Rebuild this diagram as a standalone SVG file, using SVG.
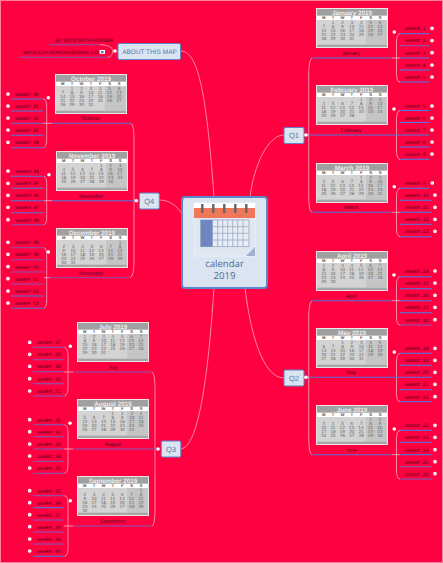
<svg xmlns="http://www.w3.org/2000/svg" width="443" height="563" viewBox="0 0 443 563">
<style>
text{font-family:"Liberation Sans",Arial,sans-serif;text-rendering:geometricPrecision}
.c{fill:none;stroke:#ffa8bf;stroke-width:.8}
.u{fill:none;stroke:#4f78dc;stroke-width:1.100}
.p{fill:none;stroke:#8258b4;stroke-width:1.100}
.t{font-size:5.200px;fill:#4a0420}
.l{font-size:5.200px;fill:#4a0420;text-anchor:middle}
.h{font-size:6.300px;font-weight:bold;fill:#ececec;text-anchor:middle}
.wd{font-size:4.200px;font-weight:bold;fill:#555;text-anchor:middle}
.d1{font-size:4.600px;fill:#6a6a6a;word-spacing:5.560px}
.d2{font-size:4.600px;fill:#6a6a6a;word-spacing:3px}
.n{fill:#dbe5f1;stroke:#5b86c9;stroke-width:1}
.q{font-size:7.500px;fill:#5577a8;text-anchor:middle}
.k{font-size:9.600px;font-family:"Open Sans",sans-serif;fill:#4a6c9c;text-anchor:middle}
.s{fill:#fff}
.w{fill:#c8c8da;stroke:#fff;stroke-width:1.100}
.ring{stroke:#666;stroke-width:2.400}
.gl{stroke:#9aa8c0;stroke-width:.8;fill:none}
</style>
<defs>
<g id="cal">
<rect x="0" y="0" width="72" height="40" fill="#f0e4e6"/>
<rect x="1" y="1" width="70" height="6.800" fill="#a0a0a0"/>
<rect x="1" y="7.800" width="70" height="4.200" fill="#fff"/>
<rect x="1" y="12" width="49" height="24.600" fill="#d3d3d3"/>
<rect x="50" y="12" width="21" height="24.600" fill="#c5c5c5"/>
<rect x="1" y="36.600" width="70" height="2.400" fill="#a6a6a6"/>
<text class="wd" y="11"><tspan x="7.700">M</tspan><tspan x="17.100">T</tspan><tspan x="26.500">W</tspan><tspan x="35.900">T</tspan><tspan x="45.300">F</tspan><tspan x="54.700">S</tspan><tspan x="64.100">S</tspan></text>
</g>
<g id="tue31"><text class="d1" x="15.800" y="16">1 2 3 4 5 6</text><text class="d1" x="6.400" y="20">7 8 9</text><text class="d2" x="33.350" y="20">10 11 12 13</text><text class="d2" x="5.150" y="24">14 15 16 17 18 19 20</text><text class="d2" x="5.150" y="28">21 22 23 24 25 26 27</text><text class="d2" x="5.150" y="32">28 29 30 31</text></g>
<g id="fri"><text class="d1" x="44" y="16">1 2 3</text><text class="d1" x="6.400" y="20">4 5 6 7 8 9</text><text class="d2" x="61.550" y="20">10</text><text class="d2" x="5.150" y="24">11 12 13 14 15 16 17</text><text class="d2" x="5.150" y="28">18 19 20 21 22 23 24</text></g>
<g id="mon"><text class="d1" x="6.400" y="16">1 2 3 4 5 6 7</text><text class="d1" x="6.400" y="20">8 9</text><text class="d2" x="23.950" y="20">10 11 12 13 14</text><text class="d2" x="5.150" y="24">15 16 17 18 19 20 21</text><text class="d2" x="5.150" y="28">22 23 24 25 26 27 28</text></g>
<g id="sun"><text class="d1" x="62.800" y="16">1</text><text class="d1" x="6.400" y="20">2 3 4 5 6 7 8</text><text class="d1" x="6.400" y="24">9</text><text class="d2" x="14.550" y="24">10 11 12 13 14 15</text><text class="d2" x="5.150" y="28">16 17 18 19 20 21 22</text><text class="d2" x="5.150" y="32">23 24 25 26 27 28 29</text></g>
<circle id="wk" r="1.300" class="w"/>
</defs>
<rect x=".5" y=".5" width="442" height="562" fill="#ff0040" stroke="#ff7f9f"/>

<g id="connectors">
<path class="c" d="M181 51C197 52 206 85 214 197"/>
<path class="c" d="M284 135C268 135 254 165 250 197"/>
<path class="c" d="M245 288C250 330 262 378 284 378"/>
<path class="c" d="M181 449C198 447 208 380 214 288"/>
<path class="c" d="M159 200C170 200 177 206 182 214"/>
<path class="c" d="M312 58Q308.700 60 308.700 75V195Q308.700 212 312 212.300"/>
<path class="c" d="M304 135H309"/>
<path class="c" d="M312 300.700Q308.700 303 308.700 318V437Q308.700 454 312 454.700"/>
<path class="c" d="M304 377.300H309"/>
<path class="c" d="M131 123.300Q134 125 134 140V260Q134 277 130 277.700"/>
<path class="c" d="M152 372Q155 374 155 389V509Q155 525 152 526"/>
<path class="c" d="M100 44.700Q112 45 113 51Q112 57 108 57.300"/>
<path class="c" d="M400 33.700Q396.500 34 396.500 42V74Q396.500 82 400 82M392 58H400"/>
<path class="c" d="M400 110.500Q396.500 111 396.500 119V151Q396.500 159 400 159.300"/>
<path class="c" d="M400 188.300Q396.500 189 396.500 197V229Q396.500 236 400 236.700M392 212.300H400"/>
<path class="c" d="M400 276.700Q396.500 277 396.500 285V317Q396.500 325 400 325M392 300.700H400"/>
<path class="c" d="M400 353.300Q396.500 354 396.500 362V394Q396.500 401 400 401.700"/>
<path class="c" d="M400 430.300Q396.500 431 396.500 439V471Q396.500 479 400 479M392 454.700H400"/>
<path class="c" d="M43.300 99Q46.700 99 46.700 107V140Q46.700 147 43.300 147.700M43 123.300H52"/>
<path class="c" d="M44 176.300Q46.700 177 46.700 184V217Q46.700 224 44 224.700M44 200.700H52"/>
<path class="c" d="M44 247.700Q46.700 248 46.700 256V300Q46.700 308 44 308.300M44 277.700H50"/>
<path class="c" d="M64.300 347.300Q68 348 68 356V388Q68 395 64.300 396M64 372H73"/>
<path class="c" d="M64.300 424.700Q68 425 68 433V465Q68 473 64.300 473.300M64 449H73"/>
<path class="c" d="M64.300 495.700Q68 496 68 504V548Q68 556 64.300 556.300M64 526H73"/>
<path class="u" d="M312 58H392M309 135H429"/>
<path class="u" d="M312 212.300H392M312 300.700H392M309 377.300H392"/>
<path class="u" d="M312 454.700H392"/>
<path class="u" d="M52 123.300H131M52 200.700H136"/>
<path class="p" d="M50 277.700H130M73 372H152M73 449H158M73 526H152"/>
<path class="p" d="M50 44.700H100M19 57.300H108"/>
</g>

<g id="central">
<rect x="182" y="197" width="85" height="91" rx="3" fill="#dbe5f1" stroke="#5b86c9" stroke-width="2"/>
<rect x="194" y="203" width="61" height="53" fill="#dfe8f2" stroke="#eef3f9" stroke-width=".8"/>
<rect x="194" y="203" width="61" height="5" fill="#fff"/>
<rect x="194" y="208" width="61" height="10" fill="#f0775a"/>
<path class="ring" d="M202.300 204V213M213.300 204V213M224.300 204V213M235.300 204V213M246.300 204V213"/>
<rect x="200.700" y="220" width="48.300" height="26.700" fill="#e6edf5" stroke="#9aa8c0" stroke-width=".8"/>
<rect x="200.700" y="220" width="12" height="26.700" fill="#6f87bf"/>
<path class="gl" d="M217.700 220V246.700M222.700 220V246.700M227.700 220V246.700M232.700 220V246.700M237.700 220V246.700M243 220V246.700M212.700 226.700H249M212.700 233.300H249M212.700 240H249"/>
<path d="M246 256H255V247Z" fill="#9fb2cf"/>
<text class="k" x="224.500" y="266.500">calendar</text>
<text class="k" x="224.500" y="279">2019</text>
</g>

<g id="about"><rect class="n" x="118" y="43.500" width="62.500" height="16" rx="1.500"/><text class="q" style="font-size:6.500px" x="149.500" y="53.800">ABOUT THIS MAP</text><circle class="s" cx="115" cy="51" r="1.800"/></g>
<g id="by"><text class="t" x="55" y="41.500">BY WOJCIECH KORSAK</text></g>
<g id="mail"><text class="t" x="23" y="53.500" style="font-size:4.800px">WOJCIECH.KORSAK@GMAIL.COM</text><rect x="99.500" y="50" width="5.500" height="3.800" fill="#fff"/><rect x="101" y="51" width="2.500" height="2" fill="#4f74cc"/></g>
<g id="q1"><rect class="n" x="284" y="127.500" width="20" height="16" rx="1.500"/><text class="q" x="294" y="138">Q1</text><circle class="s" cx="306" cy="135" r="1.800"/></g>
<g id="q2"><rect class="n" x="284" y="370" width="20" height="16" rx="1.500"/><text class="q" x="294" y="380.500">Q2</text><circle class="s" cx="306" cy="377.300" r="1.800"/></g>
<g id="q3"><rect class="n" x="161.300" y="441" width="19.500" height="16" rx="1.500"/><text class="q" x="171" y="451.500">Q3</text><circle class="s" cx="158" cy="449" r="1.800"/></g>
<g id="q4"><rect class="n" x="139.300" y="193" width="20" height="16" rx="1.500"/><text class="q" x="149.300" y="203.500">Q4</text><circle class="s" cx="136.300" cy="200.700" r="1.800"/></g>

<g id="jan" transform="translate(316,8)"><use href="#cal"/><text class="h" x="36" y="7">January 2019</text><use href="#tue31"/><text class="l" x="35" y="46.500">January</text></g>
<g id="feb" transform="translate(316,85)"><use href="#cal"/><text class="h" x="36" y="7">February 2019</text><use href="#fri"/><text class="d2" x="5.150" y="32">25 26 27 28</text><text class="l" x="35" y="46.800">February</text></g>
<g id="mar" transform="translate(316,163)"><use href="#cal"/><text class="h" x="36" y="7">March 2019</text><use href="#fri"/><text class="d2" x="5.150" y="32">25 26 27 28 29 30 31</text><text class="l" x="35" y="46.100">March</text></g>
<g id="apr" transform="translate(316,251)"><use href="#cal"/><text class="h" x="36" y="7">April 2019</text><use href="#mon"/><text class="d2" x="5.150" y="32">29 30</text><text class="l" x="35" y="46.500">April</text></g>
<g id="may" transform="translate(316,328)"><use href="#cal"/><text class="h" x="36" y="7">May 2019</text><text class="d1" x="25.200" y="16">1 2 3 4 5</text><text class="d1" x="6.400" y="20">6 7 8 9</text><text class="d2" x="42.750" y="20">10 11 12</text><text class="d2" x="5.150" y="24">13 14 15 16 17 18 19</text><text class="d2" x="5.150" y="28">20 21 22 23 24 25 26</text><text class="d2" x="5.150" y="32">27 28 29 30 31</text><text class="l" x="35" y="46.100">May</text></g>
<g id="jun" transform="translate(316,405)"><use href="#cal"/><text class="h" x="36" y="7">June 2019</text><text class="d1" x="53.400" y="16">1 2</text><text class="d1" x="6.400" y="20">3 4 5 6 7 8 9</text><text class="d2" x="5.150" y="24">10 11 12 13 14 15 16</text><text class="d2" x="5.150" y="28">17 18 19 20 21 22 23</text><text class="d2" x="5.150" y="32">24 25 26 27 28 29 30</text><text class="l" x="35" y="46.800">June</text></g>
<g id="jul" transform="translate(77,322)"><use href="#cal"/><text class="h" x="36" y="7">July 2019</text><use href="#mon"/><text class="d2" x="5.150" y="32">29 30 31</text><text class="l" x="35.700" y="46.500">July</text></g>
<g id="aug" transform="translate(77,399)"><use href="#cal"/><text class="h" x="36" y="7">August 2019</text><text class="d1" x="34.600" y="16">1 2 3 4</text><text class="d1" x="6.400" y="20">5 6 7 8 9</text><text class="d2" x="52.150" y="20">10 11</text><text class="d2" x="5.150" y="24">12 13 14 15 16 17 18</text><text class="d2" x="5.150" y="28">19 20 21 22 23 24 25</text><text class="d2" x="5.150" y="32">26 27 28 29 30 31</text><text class="l" x="35.700" y="46.800">August</text></g>
<g id="sep" transform="translate(77,476)"><use href="#cal"/><text class="h" x="36" y="7">September 2019</text><use href="#sun"/><text class="d2" x="5.150" y="36">30</text><text class="l" x="35.700" y="46.500">September</text></g>
<g id="oct" transform="translate(55,74)"><use href="#cal"/><text class="h" x="36" y="7">October 2019</text><use href="#tue31"/><text class="l" x="35.700" y="45.800">October</text></g>
<g id="nov" transform="translate(56,151)"><use href="#cal"/><text class="h" x="36" y="7">November 2019</text><use href="#fri"/><text class="d2" x="5.150" y="32">25 26 27 28 29 30</text><text class="l" x="35" y="46.800">November</text></g>
<g id="dec" transform="translate(56,228)"><use href="#cal"/><text class="h" x="36" y="7">December 2019</text><use href="#sun"/><text class="d2" x="5.150" y="36">30 31</text><text class="l" x="35" y="46.800">December</text></g>

<g id="dots-months" class="s"><circle cx="394.300" cy="32" r="1.800"/><circle cx="394" cy="109" r="1.800"/><circle cx="394.300" cy="186.700" r="1.800"/><circle cx="394" cy="275" r="1.800"/><circle cx="394.300" cy="352" r="1.800"/><circle cx="394.300" cy="429" r="1.800"/><circle cx="48.300" cy="97.700" r="1.800"/><circle cx="49" cy="174.700" r="1.800"/><circle cx="48.300" cy="252" r="1.800"/><circle cx="70.300" cy="346.300" r="1.800"/><circle cx="70" cy="423.300" r="1.800"/><circle cx="70.300" cy="500.700" r="1.800"/></g>

<g id="jan-w1"><path class="u" d="M400 33.700H429"/><text class="t" x="404.700" y="30.100">week#: 1</text><use href="#wk" x="432" y="28.300"/></g>
<g id="jan-w2"><path class="p" d="M400 45.700H429"/><text class="t" x="404.700" y="42.400">week#: 2</text><use href="#wk" x="432" y="40.600"/></g>
<g id="jan-w3"><path class="u" d="M400 58H429"/><text class="t" x="404.700" y="54.500">week#: 3</text><use href="#wk" x="432" y="52.700"/></g>
<g id="jan-w4"><path class="u" d="M400 70H429"/><text class="t" x="404.700" y="66.800">week#: 4</text><use href="#wk" x="432" y="65"/></g>
<g id="jan-w5"><path class="u" d="M400 82H429"/><text class="t" x="404.700" y="78.800">week#: 5</text><use href="#wk" x="432" y="77"/></g>
<g id="feb-w5"><path class="u" d="M400 110.500H429"/><text class="t" x="404.700" y="107.800">week#: 5</text><use href="#wk" x="432" y="106"/></g>
<g id="feb-w6"><path class="u" d="M400 122.500H429"/><text class="t" x="404.700" y="119.800">week#: 6</text><use href="#wk" x="432" y="118"/></g>
<g id="feb-w7"><text class="t" x="404.700" y="131.800">week#: 7</text><use href="#wk" x="432" y="130"/></g>
<g id="feb-w8"><path class="u" d="M400 147H429"/><text class="t" x="404.700" y="143.800">week#: 8</text><use href="#wk" x="432" y="142"/></g>
<g id="feb-w9"><path class="u" d="M400 159.300H429"/><text class="t" x="404.700" y="155.800">week#: 9</text><use href="#wk" x="432" y="154"/></g>
<g id="mar-w9"><path class="u" d="M400 188.300H429"/><text class="t" x="404.700" y="184.800">week#: 9</text><use href="#wk" x="432.300" y="183"/></g>
<g id="mar-w10"><path class="u" d="M400 200.300H432"/><text class="t" x="404.700" y="196.800">week#: 10</text><use href="#wk" x="435" y="195"/></g>
<g id="mar-w11"><path class="u" d="M400 212.300H432"/><text class="t" x="404.700" y="209.100">week#: 11</text><use href="#wk" x="435" y="207.300"/></g>
<g id="mar-w12"><path class="u" d="M400 224.300H432"/><text class="t" x="404.700" y="221.100">week#: 12</text><use href="#wk" x="435" y="219.300"/></g>
<g id="mar-w13"><path class="u" d="M400 236.700H432"/><text class="t" x="404.700" y="233.100">week#: 13</text><use href="#wk" x="435" y="231.300"/></g>
<g id="apr-w14"><path class="u" d="M400 276.700H432"/><text class="t" x="404.700" y="272.800">week#: 14</text><use href="#wk" x="435" y="271"/></g>
<g id="apr-w15"><path class="u" d="M400 288.700H432"/><text class="t" x="404.700" y="284.800">week#: 15</text><use href="#wk" x="435" y="283"/></g>
<g id="apr-w16"><path class="u" d="M400 300.700H432"/><text class="t" x="404.700" y="297.100">week#: 16</text><use href="#wk" x="435" y="295.300"/></g>
<g id="apr-w17"><path class="u" d="M400 312.700H432"/><text class="t" x="404.700" y="309.100">week#: 17</text><use href="#wk" x="435" y="307.300"/></g>
<g id="apr-w18"><path class="p" d="M400 325H432"/><text class="t" x="404.700" y="321.500">week#: 18</text><use href="#wk" x="435" y="319.700"/></g>
<g id="may-w18"><path class="u" d="M400 353.300H432"/><text class="t" x="404.700" y="350.100">week#: 18</text><use href="#wk" x="435" y="348.300"/></g>
<g id="may-w19"><path class="u" d="M400 365.300H432"/><text class="t" x="404.700" y="362.100">week#: 19</text><use href="#wk" x="435" y="360.300"/></g>
<g id="may-w20"><path class="u" d="M392 377.300H432"/><text class="t" x="404.700" y="374.100">week#: 20</text><use href="#wk" x="435" y="372.300"/></g>
<g id="may-w21"><path class="u" d="M400 389.700H432"/><text class="t" x="404.700" y="386.100">week#: 21</text><use href="#wk" x="435" y="384.300"/></g>
<g id="may-w22"><path class="u" d="M400 401.700H432"/><text class="t" x="404.700" y="398.500">week#: 22</text><use href="#wk" x="435" y="396.700"/></g>
<g id="jun-w22"><path class="u" d="M400 430.300H432"/><text class="t" x="404.700" y="427.100">week#: 22</text><use href="#wk" x="435" y="425.300"/></g>
<g id="jun-w23"><path class="u" d="M400 442.300H432"/><text class="t" x="404.700" y="439.100">week#: 23</text><use href="#wk" x="435" y="437.300"/></g>
<g id="jun-w24"><path class="u" d="M400 454.700H432"/><text class="t" x="404.700" y="451.500">week#: 24</text><use href="#wk" x="435" y="449.700"/></g>
<g id="jun-w25"><path class="p" d="M400 466.700H432"/><text class="t" x="404.700" y="463.500">week#: 25</text><use href="#wk" x="435" y="461.700"/></g>
<g id="jun-w26"><path class="p" d="M400 479H432"/><text class="t" x="404.700" y="475.500">week#: 26</text><use href="#wk" x="435" y="473.700"/></g>

<g id="oct-w40"><path class="u" d="M11 99H43.300"/><text class="t" x="15" y="95.800">week#: 40</text><use href="#wk" x="8" y="94"/></g>
<g id="oct-w41"><path class="u" d="M11 111H43.300"/><text class="t" x="15" y="107.800">week#: 41</text><use href="#wk" x="8" y="106"/></g>
<g id="oct-w42"><path class="u" d="M11 123.300H43.300"/><text class="t" x="15" y="119.800">week#: 42</text><use href="#wk" x="8" y="118"/></g>
<g id="oct-w43"><path class="u" d="M11 135.300H43.300"/><text class="t" x="15" y="131.800">week#: 43</text><use href="#wk" x="8" y="130"/></g>
<g id="oct-w44"><path class="u" d="M11 147.700H43.300"/><text class="t" x="15" y="144.100">week#: 44</text><use href="#wk" x="8" y="142.300"/></g>
<g id="nov-w44"><path class="u" d="M11 176.300H44"/><text class="t" x="15.300" y="172.800">week#: 44</text><use href="#wk" x="8" y="171"/></g>
<g id="nov-w45"><path class="u" d="M11 188.300H44"/><text class="t" x="15.300" y="185.100">week#: 45</text><use href="#wk" x="8" y="183.300"/></g>
<g id="nov-w46"><path class="u" d="M11 200.700H44"/><text class="t" x="15.300" y="197.100">week#: 46</text><use href="#wk" x="8" y="195.300"/></g>
<g id="nov-w47"><path class="u" d="M11 212.700H44"/><text class="t" x="15.300" y="209.100">week#: 47</text><use href="#wk" x="8" y="207.300"/></g>
<g id="nov-w48"><path class="p" d="M11 224.700H44"/><text class="t" x="15.300" y="221.500">week#: 48</text><use href="#wk" x="8" y="219.700"/></g>
<g id="dec-w48"><path class="p" d="M11 247.700H44"/><text class="t" x="15" y="244.100">week#: 48</text><use href="#wk" x="8" y="242.300"/></g>
<g id="dec-w49"><path class="p" d="M11 259.700H44"/><text class="t" x="15" y="256.100">week#: 49</text><use href="#wk" x="8" y="254.300"/></g>
<g id="dec-w50"><path class="p" d="M11 272H44"/><text class="t" x="15" y="268.500">week#: 50</text><use href="#wk" x="8" y="266.700"/></g>
<g id="dec-w51"><path class="p" d="M11 284H44"/><text class="t" x="15" y="280.500">week#: 51</text><use href="#wk" x="8" y="278.700"/></g>
<g id="dec-w52"><path class="u" d="M11 296H44"/><text class="t" x="15" y="292.800">week#: 52</text><use href="#wk" x="8" y="291"/></g>
<g id="dec-w53"><path class="u" d="M11 308.300H44"/><text class="t" x="15" y="304.800">week#: 53</text><use href="#wk" x="8" y="303"/></g>

<g id="jul-w27"><path class="p" d="M33 347.300H64.300"/><text class="t" x="37" y="344.100">week#: 27</text><use href="#wk" x="29.700" y="342.300"/></g>
<g id="jul-w28"><path class="p" d="M33 359.700H64.300"/><text class="t" x="37" y="356.100">week#: 28</text><use href="#wk" x="29.700" y="354.300"/></g>
<g id="jul-w29"><path class="p" d="M33 371.700H64.300"/><text class="t" x="37" y="368.100">week#: 29</text><use href="#wk" x="29.700" y="366.300"/></g>
<g id="jul-w30"><path class="p" d="M33 383.700H64.300"/><text class="t" x="37" y="380.500">week#: 30</text><use href="#wk" x="29.700" y="378.700"/></g>
<g id="jul-w31"><path class="p" d="M33 396H64.300"/><text class="t" x="37" y="392.800">week#: 31</text><use href="#wk" x="29.700" y="391"/></g>
<g id="aug-w31"><path class="p" d="M33 424.700H64.300"/><text class="t" x="37" y="421.500">week#: 31</text><use href="#wk" x="29.700" y="419.700"/></g>
<g id="aug-w32"><path class="p" d="M33 436.700H64.300"/><text class="t" x="37" y="433.500">week#: 32</text><use href="#wk" x="29.700" y="431.700"/></g>
<g id="aug-w33"><path class="p" d="M33 449H64.300"/><text class="t" x="37" y="445.800">week#: 33</text><use href="#wk" x="29.700" y="444"/></g>
<g id="aug-w34"><path class="p" d="M33 461.300H64.300"/><text class="t" x="37" y="457.800">week#: 34</text><use href="#wk" x="29.700" y="456"/></g>
<g id="aug-w35"><path class="p" d="M33 473.300H64.300"/><text class="t" x="37" y="469.800">week#: 35</text><use href="#wk" x="29.700" y="468"/></g>
<g id="sep-w35"><path class="p" d="M33 495.700H64.300"/><text class="t" x="37" y="492.500">week#: 35</text><use href="#wk" x="29.700" y="490.700"/></g>
<g id="sep-w36"><path class="u" d="M33 507.700H64.300"/><text class="t" x="37" y="504.500">week#: 36</text><use href="#wk" x="29.700" y="502.700"/></g>
<g id="sep-w37"><path class="p" d="M33 520H64.300"/><text class="t" x="37" y="516.500">week#: 37</text><use href="#wk" x="29.700" y="514.700"/></g>
<g id="sep-w38"><path class="p" d="M33 532H64.300"/><text class="t" x="37" y="528.500">week#: 38</text><use href="#wk" x="29.700" y="526.700"/></g>
<g id="sep-w39"><path class="p" d="M33 544H64.300"/><text class="t" x="37" y="540.800">week#: 39</text><use href="#wk" x="29.700" y="539"/></g>
<g id="sep-w40"><path class="u" d="M33 556.300H64.300"/><text class="t" x="37" y="552.800">week#: 40</text><use href="#wk" x="29.700" y="551"/></g>
</svg>
